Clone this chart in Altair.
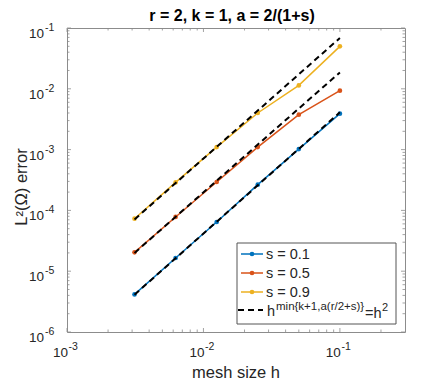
import altair as alt
import pandas as pd

# ---- data ----
h_vals = [0.003125, 0.00625, 0.0125, 0.025, 0.05, 0.1]
s_labels = ["s = 0.1", "s = 0.5", "s = 0.9"]
err_s01 = [4.15e-6, 1.65e-5, 6.44e-5, 2.65e-4, 1.02e-3, 3.9e-3]
err_s05 = [2.04e-5, 7.8e-5, 2.93e-4, 1.1e-3, 3.75e-3, 9.3e-3]
err_s09 = [7.3e-5, 2.89e-4, 1.1e-3, 4.0e-3, 1.138e-2, 4.99e-2]
colors = ["#0072BD", "#D95319", "#EDB120"]

ref_h = [0.003125, 0.1]
ref_s01 = [4.1e-6, 4.1e-3]
ref_s05 = [2.0e-5, 1.86e-2]
ref_s09 = [7.1e-5, 6.85e-2]
ref_label_base = "h"
ref_label_sup = "min{k+1,a(r/2+s)}"
ref_label_mid = "=h"
ref_label_exp = "2"

title_text = "r = 2, k = 1, a = 2/(1+s)"
x_title = "mesh size h"
y_title = "L²(Ω) error"

x_major = [1e-3, 1e-2, 1e-1]
x_exp = ["-3", "-2", "-1"]
x_minor = [k * 10.0 ** e for e in (-3, -2, -1) for k in range(2, 10) if k * 10.0 ** e <= 0.3]
y_major = [1e-6, 1e-5, 1e-4, 1e-3, 1e-2, 1e-1]
y_exp = ["-6", "-5", "-4", "-3", "-2", "-1"]
y_minor = [k * 10.0 ** e for e in (-6, -5, -4, -3, -2) for k in range(2, 10)]

W, H = 338, 304
FONT = "Liberation Sans"
TXT = "#262626"
AXC = "#8c8c8c"

rows = []
for lab, errs in zip(s_labels, [err_s01, err_s05, err_s09]):
    for h, e in zip(h_vals, errs):
        rows.append({"h": h, "err": e, "s": lab})
df = pd.DataFrame(rows)

rrows = []
for lab, errs in zip(s_labels, [ref_s01, ref_s05, ref_s09]):
    for h, e in zip(ref_h, errs):
        rrows.append({"h": h, "err": e, "s": lab})
dref = pd.DataFrame(rrows)

xs = alt.Scale(type="log", domain=[1e-3, 0.3], nice=False)
ys = alt.Scale(type="log", domain=[1e-6, 1e-1], nice=False)
cs = alt.Scale(domain=s_labels, range=colors)

lines = alt.Chart(df).mark_line(point=alt.OverlayMarkDef(filled=True, size=22, opacity=1),
                                strokeWidth=1.5).encode(
    x=alt.X("h:Q", scale=xs, axis=None),
    y=alt.Y("err:Q", scale=ys, axis=None),
    color=alt.Color("s:N", scale=cs, legend=None),
    detail="s:N",
)

dashed = alt.Chart(dref).mark_line(color="black", strokeDash=[6, 4], strokeWidth=2).encode(
    x=alt.X("h:Q", scale=xs, axis=None),
    y=alt.Y("err:Q", scale=ys, axis=None),
    detail="s:N",
)

layers = [lines, dashed]

# tick marks inside the box (all four sides)
for vals, ln in ((x_major, 4), (x_minor, 2.5)):
    d = pd.DataFrame({"h": vals})
    for y0, y1 in ((H, H - ln), (0, ln)):
        layers.append(alt.Chart(d).mark_rule(color=AXC, strokeWidth=0.8).encode(
            x=alt.X("h:Q", scale=xs, axis=None), y=alt.value(y0), y2=alt.value(y1)))
for vals, ln in ((y_major, 4), (y_minor, 2.5)):
    d = pd.DataFrame({"err": vals})
    for x0, x1 in ((0, ln), (W, W - ln)):
        layers.append(alt.Chart(d).mark_rule(color=AXC, strokeWidth=0.8).encode(
            y=alt.Y("err:Q", scale=ys, axis=None), x=alt.value(x0), x2=alt.value(x1)))

# tick labels: 10 with superscript exponent
dxl = pd.DataFrame({"h": x_major, "e": x_exp})
layers.append(alt.Chart(dxl).mark_text(text="10", align="right", baseline="alphabetic", dx=1,
                                       font=FONT, fontSize=13.5, color=TXT).encode(
    x=alt.X("h:Q", scale=xs, axis=None), y=alt.value(H + 25)))
layers.append(alt.Chart(dxl).mark_text(align="left", baseline="alphabetic", dx=1.5,
                                       font=FONT, fontSize=10.5, color=TXT).encode(
    x=alt.X("h:Q", scale=xs, axis=None), y=alt.value(H + 18), text="e:N"))
dyl = pd.DataFrame({"err": y_major, "e": y_exp})
layers.append(alt.Chart(dyl).mark_text(text="10", align="right", baseline="alphabetic", dy=10,
                                       font=FONT, fontSize=13.5, color=TXT).encode(
    y=alt.Y("err:Q", scale=ys, axis=None), x=alt.value(-23)))
layers.append(alt.Chart(dyl).mark_text(align="left", baseline="alphabetic", dy=3,
                                       font=FONT, fontSize=10.5, color=TXT).encode(
    y=alt.Y("err:Q", scale=ys, axis=None), x=alt.value(-22), text="e:N"))

one = pd.DataFrame({"a": [0]})
# axis titles and chart title
layers.append(alt.Chart(one).mark_text(text=x_title, align="center", baseline="alphabetic",
                                       font=FONT, fontSize=16.5, color=TXT).encode(
    x=alt.value(W / 2), y=alt.value(H + 46)))
layers.append(alt.Chart(one).mark_text(text=y_title, align="center", baseline="alphabetic",
                                       angle=270, font=FONT, fontSize=16.5, color=TXT).encode(
    x=alt.value(-40), y=alt.value(H / 2 + 7)))
layers.append(alt.Chart(one).mark_text(text=title_text, align="center", baseline="alphabetic",
                                       font=FONT, fontSize=16, fontWeight="bold",
                                       color="black").encode(
    x=alt.value(W / 2 - 4), y=alt.value(-7)))

# custom legend
layers.append(alt.Chart(one).mark_rect(fill="white", stroke="#555555", strokeWidth=1).encode(
    x=alt.value(170), x2=alt.value(329), y=alt.value(215), y2=alt.value(296)))
row_y = [226, 245, 264]
for lab, col, yy in zip(s_labels, colors, row_y):
    layers.append(alt.Chart(one).mark_rule(color=col, strokeWidth=1.5).encode(
        x=alt.value(174), x2=alt.value(196), y=alt.value(yy)))
    layers.append(alt.Chart(one).mark_point(filled=True, size=22, color=col, opacity=1).encode(
        x=alt.value(185), y=alt.value(yy)))
    layers.append(alt.Chart(one).mark_text(text=lab, align="left", baseline="middle", font=FONT,
                                           fontSize=14.5, color=TXT).encode(
        x=alt.value(199), y=alt.value(yy + 1)))
layers.append(alt.Chart(one).mark_rule(color="black", strokeWidth=2, strokeDash=[6, 4]).encode(
    x=alt.value(171), x2=alt.value(196), y=alt.value(282)))
layers.append(alt.Chart(one).mark_text(text=ref_label_base, align="left", baseline="alphabetic",
                                       font=FONT, fontSize=14.5, color=TXT).encode(
    x=alt.value(200), y=alt.value(288)))
layers.append(alt.Chart(one).mark_text(text=ref_label_sup, align="left", baseline="alphabetic",
                                       font=FONT, fontSize=11.5, color=TXT).encode(
    x=alt.value(209), y=alt.value(282)))
layers.append(alt.Chart(one).mark_text(text=ref_label_mid, align="left", baseline="alphabetic",
                                       font=FONT, fontSize=14.5, color=TXT).encode(
    x=alt.value(298), y=alt.value(290)))
layers.append(alt.Chart(one).mark_text(text=ref_label_exp, align="left", baseline="alphabetic",
                                       font=FONT, fontSize=11, color=TXT).encode(
    x=alt.value(315), y=alt.value(283)))

chart = alt.layer(*layers).properties(
    width=W, height=H,
    autosize=alt.AutoSizeParams(type="none"),
    padding={"left": 59, "top": 20, "right": 34, "bottom": 49},
).configure_view(stroke=AXC, strokeWidth=1)

chart.save("out.html", embed_options={"renderer": "svg", "actions": False})
